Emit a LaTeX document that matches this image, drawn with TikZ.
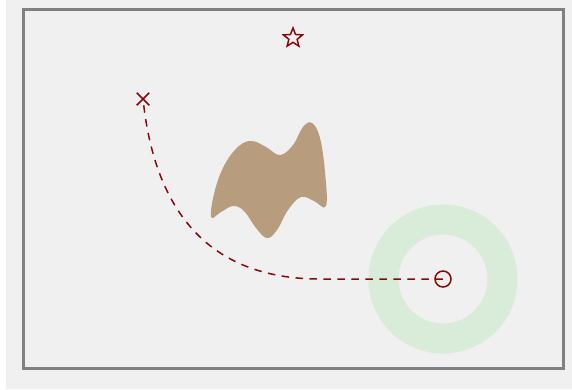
\documentclass[tikz,border=0pt]{standalone}
\usetikzlibrary{shapes.geometric,shapes.misc}

\definecolor{bgray}{RGB}{240,240,240}
\definecolor{framegray}{RGB}{128,128,128}
\definecolor{darkred}{RGB}{140,8,8}
\definecolor{ringgreen}{RGB}{217,235,217}
\definecolor{sand}{RGB}{184,156,126}

\tikzset{
  marker/.style={draw=darkred, line width=1.5pt, inner sep=0pt},
  path line/.style={darkred, line width=1.5pt, dash pattern=on 7.5pt off 6.5pt}
}

\begin{document}
\begin{tikzpicture}[x=1pt, y=-1pt]
\useasboundingbox (0,0) rectangle (572,389);
% background and frame
\fill[bgray] (6,0) rectangle (572,389);
\draw[framegray, line width=3pt] (23.5,9.5) rectangle (563,368.5);

% goal region
\fill[ringgreen, even odd rule] (443,279) circle (74.5) (443,279) circle (44.5);

% obstacle
\fill[sand] plot[smooth cycle, tension=0.65] coordinates {
  (211,217) (215,190) (225,164) (239,146) (252,141) (266,147) (280,155)
  (293,145) (303,127) (312,123) (320,138) (325,172) (326,206)
  (314,201) (301,197) (288,210) (277,230) (267,238) (256,228)
  (244,211) (233,206) (221,212)};

% markers
\node[marker, star, star points=5, star point ratio=2.3, minimum size=20pt] (target) at (293,38) {};
\node[marker, cross out, minimum size=11pt] (start) at (143,99) {};
\node[marker, circle, minimum size=16pt] (goal) at (443,279) {};

% planned path
\draw[path line] (start) .. controls (155,200) and (200,279) .. (320,279) -- (goal.center);
\end{tikzpicture}
\end{document}
